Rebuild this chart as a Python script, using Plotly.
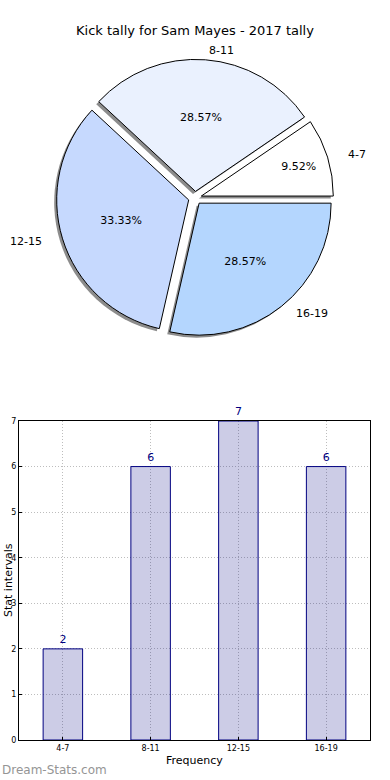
import numpy as np
import plotly.graph_objects as go

# ---- data ----
categories = ["4-7", "8-11", "12-15", "16-19"]
counts = [2, 6, 7, 6]
pie_colors = ["#ffffff", "#eaf1fe", "#c6d9fe", "#b4d6fe"]
chart_title = "Kick tally for Sam Mayes - 2017 tally"
y_ticks = [0, 1, 2, 3, 4, 5, 6, 7]

# ---- geometry (pixels) ----
W, H = 390, 780
cx, cy, r = 195, 198, 132
pull = 0.05
half = r * (1 + pull)
total = sum(counts)
start_rot = 90 - 360 * counts[0] / total


def dom_x(a, b):
    return [a / W, b / W]


def dom_y(top, bottom):
    return [1 - bottom / H, 1 - top / H]


FONT = "DejaVu Sans"
fig = go.Figure()

# shadow pie
sdx, sdy = -2.5, 2.5
fig.add_trace(go.Pie(
    labels=categories, values=counts, sort=False, direction="counterclockwise",
    rotation=start_rot, pull=pull,
    marker=dict(colors=["rgba(0,0,0,0.45)"] * len(counts), line=dict(width=0)),
    textinfo="none", hoverinfo="skip", showlegend=False,
    domain=dict(x=dom_x(cx - half + sdx, cx + half + sdx),
                y=dom_y(cy - half + sdy, cy + half + sdy)),
))

# main pie
fig.add_trace(go.Pie(
    labels=categories, values=counts, sort=False, direction="counterclockwise",
    rotation=start_rot, pull=pull,
    marker=dict(colors=pie_colors, line=dict(color="#000000", width=1)),
    texttemplate="%{percent:.2%}", textposition="inside",
    insidetextorientation="horizontal",
    textfont=dict(family=FONT, size=11, color="#000000"),
    showlegend=False,
    domain=dict(x=dom_x(cx - half, cx + half), y=dom_y(cy - half, cy + half)),
))

# outer labels
cum = np.cumsum(counts)
annotations = []
for lab, c, cu in zip(categories, counts, cum):
    mid = np.deg2rad(360 * (cu - c / 2) / total)
    lx = cx + 158 * np.cos(mid)
    ly = cy - 148 * np.sin(mid)
    annotations.append(dict(
        text=lab, x=lx / W, y=1 - ly / H, xref="paper", yref="paper",
        xanchor="left" if np.cos(mid) > 0 else "right", yanchor="middle",
        showarrow=False, font=dict(family=FONT, size=11, color="#000000"),
    ))

# axis titles and watermark
bx0, bx1, by0, by1 = 19, 370, 421, 740
annotations.append(dict(
    text="Frequency", x=(bx0 + bx1) / 2 / W, y=1 - 760 / H, xref="paper", yref="paper",
    xanchor="center", yanchor="middle", showarrow=False,
    font=dict(family=FONT, size=11, color="#000000"),
))
annotations.append(dict(
    text="Stat intervals", x=0, y=1 - (by0 + by1) / 2 / H, xref="paper", yref="paper",
    xanchor="left", yanchor="middle", textangle=-90, showarrow=False,
    font=dict(family=FONT, size=11, color="#000000"),
))
annotations.append(dict(
    text="Dream-Stats.com", x=0, y=1 - 770 / H, xref="paper", yref="paper",
    xanchor="left", yanchor="middle", showarrow=False,
    font=dict(family=FONT, size=12, color="#959595"),
))

# bar chart
fig.add_trace(go.Bar(
    x=categories, y=counts, width=0.45,
    marker=dict(color="rgba(0,0,128,0.2)", line=dict(color="#000080", width=1)),
    text=counts, textposition="outside", cliponaxis=False,
    textfont=dict(family=FONT, size=11, color="#000080"),
    showlegend=False, xaxis="x", yaxis="y",
))

axis_common = dict(
    showline=True, linecolor="#000000", linewidth=1, mirror=True,
    showgrid=True, gridcolor="#bdbdbd", griddash="1px,2px", gridwidth=1,
    zeroline=False, ticks="inside", ticklen=3, tickcolor="#000000",
    tickfont=dict(family=FONT, size=8, color="#000000"), automargin=False,
)

fig.update_layout(
    width=W, height=H,
    margin=dict(l=0, r=0, t=0, b=0, autoexpand=False),
    paper_bgcolor="#ffffff", plot_bgcolor="#ffffff",
    font=dict(family=FONT),
    title=dict(text=chart_title, x=0.5, xanchor="center", y=1 - 30 / H,
               yanchor="middle", font=dict(family=FONT, size=13, color="#000000"),
               automargin=False),
    xaxis=dict(domain=dom_x(bx0, bx1), type="category", range=[-0.5, 3.5],
               **axis_common),
    yaxis=dict(domain=dom_y(by0, by1), range=[0, 7], tickvals=y_ticks,
               **axis_common),
    annotations=annotations,
    bargap=0.55,
)

fig.write_html("out.html", config={"displayModeBar": False},
               post_script="document.body.style.margin='0';document.body.style.padding='0';")
